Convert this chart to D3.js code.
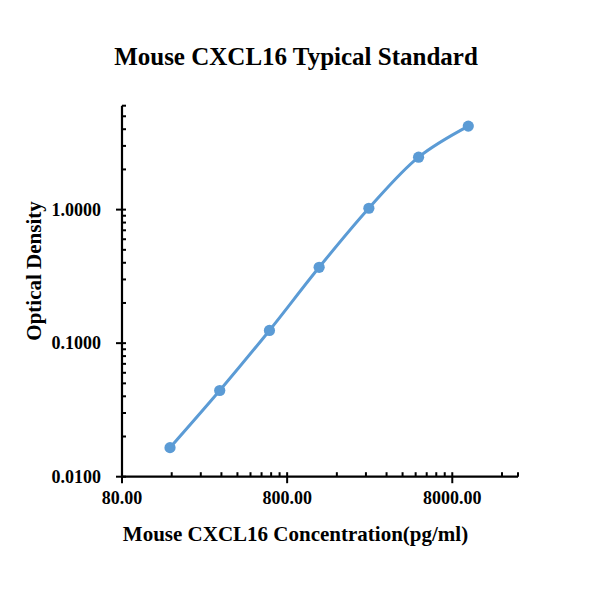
<!DOCTYPE html>
<html><head><meta charset="utf-8">
<script src="https://cdn.jsdelivr.net/npm/d3@7"></script>
<style>body{margin:0;background:#fff}text{font-family:"Liberation Serif","Times New Roman",serif;font-weight:bold;fill:#000}</style>
</head><body>
<svg id="c" width="610" height="595"></svg>
<script>
const concentrations = [156.25, 312.5, 625, 1250, 2500, 5000, 10000];
const odValues = [0.0165, 0.0442, 0.1245, 0.370, 1.024, 2.47, 4.22];
const xMajorTicks = [80, 800, 8000];
const yMajorTicks = [0.01, 0.1, 1];
const xDomain = [80, 20000];
const yDomain = [0.01, 6];
const title = "Mouse CXCL16 Typical Standard";
const xTitle = "Mouse CXCL16 Concentration(pg/ml)";
const yTitle = "Optical Density";

const svg = d3.select("#c");
const L = 122, R = 518, T = 105.7, B = 476.7;
const x = d3.scaleLog().domain(xDomain).range([L, R]);
const y = d3.scaleLog().domain(yDomain).range([B, T]);
const color = "#5B9BD5";

// minor ticks
const xMinor = [];
xMajorTicks.forEach(m => { for (let k = 2; k <= 9; k++) { const v = m * k; if (v <= xDomain[1]) xMinor.push(v); } });
xMinor.push(xDomain[1]);
const yMinor = [];
yMajorTicks.forEach(m => { for (let k = 2; k <= 9; k++) { const v = m * k; if (v <= yDomain[1] + 1e-9) yMinor.push(v); } });

const ax = svg.append("g");
ax.append("line").attr("x1", L).attr("x2", L).attr("y1", T).attr("y2", B + 1).attr("stroke", "#000").attr("stroke-width", 2.2);
ax.append("line").attr("x1", L - 1).attr("x2", R).attr("y1", B).attr("y2", B).attr("stroke", "#000").attr("stroke-width", 2.2);

// x ticks
ax.selectAll(".xm").data(xMinor).join("line")
  .attr("x1", d => x(d)).attr("x2", d => x(d)).attr("y1", B).attr("y2", B - 4.5)
  .attr("stroke", "#000").attr("stroke-width", 2);
ax.selectAll(".xM").data(xMajorTicks).join("line")
  .attr("x1", d => x(d)).attr("x2", d => x(d)).attr("y1", B - 4.5).attr("y2", B + 6.5)
  .attr("stroke", "#000").attr("stroke-width", 2);
ax.selectAll(".xl").data(xMajorTicks).join("text")
  .attr("x", d => x(d)).attr("y", B + 27.5).attr("text-anchor", "middle")
  .attr("font-size", 18).text(d => d3.format(".2f")(d));

// y ticks
ax.selectAll(".ym").data(yMinor).join("line")
  .attr("x1", L).attr("x2", L + 4).attr("y1", d => y(d)).attr("y2", d => y(d))
  .attr("stroke", "#000").attr("stroke-width", 2);
ax.selectAll(".yM").data(yMajorTicks).join("line")
  .attr("x1", L - 6).attr("x2", L + 4).attr("y1", d => y(d)).attr("y2", d => y(d))
  .attr("stroke", "#000").attr("stroke-width", 2);
ax.selectAll(".yl").data(yMajorTicks).join("text")
  .attr("x", L - 21).attr("y", d => y(d) + 6).attr("text-anchor", "end")
  .attr("font-size", 18).text(d => d3.format(".4f")(d));

// line
const pts = concentrations.map((c, i) => [x(c), y(odValues[i])]);
svg.append("path").attr("d", d3.line().curve(d3.curveCatmullRom.alpha(0.5))(pts))
  .attr("fill", "none").attr("stroke", color).attr("stroke-width", 3);
svg.selectAll(".pt").data(pts).join("circle")
  .attr("cx", d => d[0]).attr("cy", d => d[1]).attr("r", 5.6).attr("fill", color);

// titles
svg.append("text").attr("x", 296).attr("y", 65.3).attr("text-anchor", "middle").attr("font-size", 25).text(title);
svg.append("text").attr("x", 295.5).attr("y", 541).attr("text-anchor", "middle").attr("font-size", 21).text(xTitle);
svg.append("text").attr("transform", "translate(41,271) rotate(-90)").attr("text-anchor", "middle").attr("font-size", 21).text(yTitle);
</script>
</body></html>
